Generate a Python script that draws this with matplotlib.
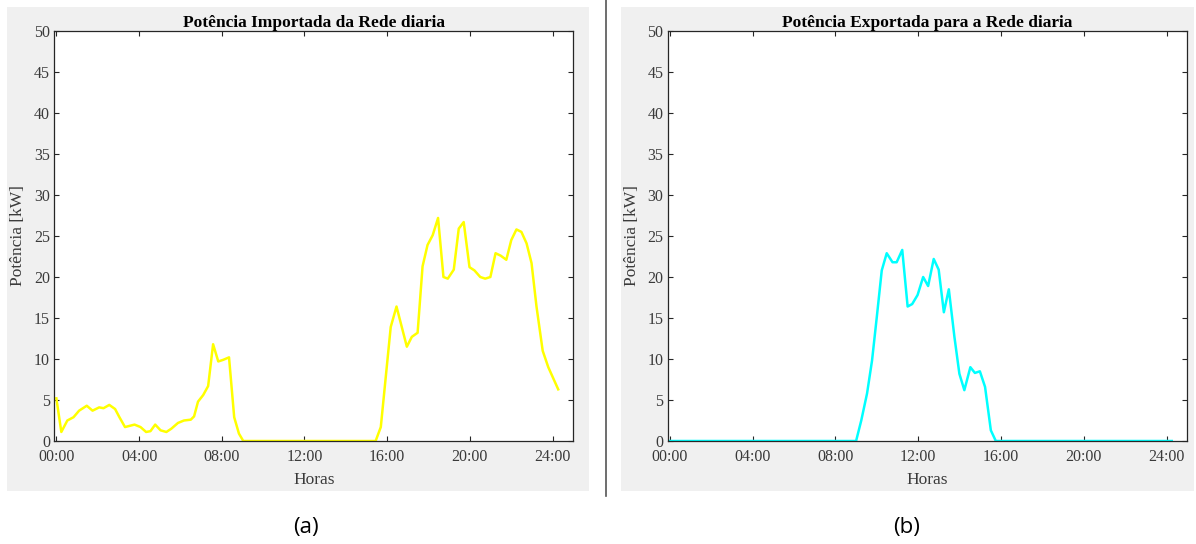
import matplotlib
matplotlib.use("Agg")
import matplotlib.pyplot as plt
from matplotlib.patches import Rectangle
from matplotlib.lines import Line2D

# ---------------- data ----------------
imp_hours = [0.00, 0.24, 0.53, 0.83, 1.10, 1.47, 1.75, 2.07, 2.28, 2.56, 2.84, 3.05,
             3.32, 3.78, 4.07, 4.34, 4.55, 4.78, 5.04, 5.32, 5.56, 5.88, 6.17, 6.50,
             6.66, 6.85, 7.10, 7.34, 7.58, 7.83, 8.07, 8.35, 8.60, 8.83, 9.04, 15.44,
             15.69, 15.93, 16.17, 16.45, 16.95, 17.19, 17.47, 17.71, 17.95, 18.20,
             18.46, 18.72, 18.93, 19.22, 19.46, 19.70, 19.98, 20.22, 20.50, 20.74,
             20.99, 21.24, 21.49, 21.76, 22.00, 22.25, 22.49, 22.74, 22.98, 23.22,
             23.52, 23.79, 24.27]
imp_kw = [5.2, 1.1, 2.5, 2.9, 3.7, 4.3, 3.7, 4.1, 4.0, 4.4, 3.9, 2.9,
          1.7, 2.0, 1.7, 1.1, 1.2, 2.0, 1.3, 1.1, 1.5, 2.2, 2.5, 2.6,
          3.0, 4.8, 5.6, 6.7, 11.8, 9.7, 9.9, 10.2, 2.9, 0.9, 0.0, 0.0,
          1.7, 7.8, 13.9, 16.4, 11.5, 12.7, 13.2, 21.3, 23.9, 25.1,
          27.2, 20.0, 19.8, 20.9, 25.9, 26.7, 21.2, 20.8, 20.0, 19.8,
          20.0, 22.9, 22.6, 22.1, 24.5, 25.8, 25.5, 24.1, 21.7, 16.4,
          11.0, 9.0, 6.3]

exp_hours = [0.00, 9.00, 9.25, 9.53, 9.77, 10.00, 10.24, 10.48, 10.76, 10.96, 11.23,
             11.49, 11.71, 11.97, 12.24, 12.48, 12.75, 12.99, 13.24, 13.48, 13.75,
             13.99, 14.23, 14.52, 14.74, 14.98, 15.23, 15.51, 15.75, 24.25]
exp_kw = [0.0, 0.0, 2.5, 5.8, 9.8, 15.1, 20.8, 22.9, 21.8, 21.8, 23.3,
          16.4, 16.7, 17.8, 20.0, 18.9, 22.2, 20.9, 15.7, 18.5, 12.7,
          8.2, 6.2, 9.0, 8.3, 8.5, 6.6, 1.3, 0.0, 0.0]

xtick_hours = [0, 4, 8, 12, 16, 20, 24]
xtick_labels = ["00:00", "04:00", "08:00", "12:00", "16:00", "20:00", "24:00"]
ytick_vals = [0, 5, 10, 15, 20, 25, 30, 35, 40, 45, 50]

titles = ["Potência Importada da Rede diaria", "Potência Exportada para a Rede diaria"]
ylabel = "Potência [kW]"
xlabel = "Horas"
panel_tags = ["(a)", "(b)"]

# ---------------- figure ----------------
W, H = 1196, 544
fig = plt.figure(figsize=(W / 100, H / 100), dpi=100)
fig.patch.set_facecolor("white")

serif = ["Liberation Serif", "DejaVu Serif"]
dark = "#262626"


def fx(px):
    return px / W


def fy(py):
    return 1 - py / H


# gray MATLAB figure backgrounds
for x0, x1 in [(6.7, 589.3), (620.7, 1194.0)]:
    fig.patches.append(Rectangle((fx(x0), fy(490.7)), fx(x1 - x0), (490.7 - 7.3) / H,
                                 transform=fig.transFigure, facecolor="#F0F0F0",
                                 edgecolor="none", zorder=-5))
# divider line
fig.lines.append(Line2D([fx(605.5), fx(605.5)], [fy(0), fy(496)], transform=fig.transFigure,
                        color="#555555", linewidth=1.2, zorder=-5))

axes_px = [(54.3, 573.3), (667.7, 1187.3)]
series = [(imp_hours, imp_kw, "#FFFF00"), (exp_hours, exp_kw, "#00FFFF")]
tag_x = [306, 907]

for i, ((l, r), (hx, vy, col)) in enumerate(zip(axes_px, series)):
    ax = fig.add_axes([fx(l), fy(441), fx(r - l), (441 - 31) / H])
    ax.set_facecolor("white")
    ax.plot(hx, vy, color=col, linewidth=1.8, solid_joinstyle="round")
    ax.set_xlim(-0.1, 25.0)
    ax.set_ylim(0, 50)
    ax.set_xticks(xtick_hours)
    ax.set_xticklabels(xtick_labels)
    ax.set_yticks(ytick_vals)
    ax.set_yticklabels([str(v) for v in ytick_vals])
    for sp in ax.spines.values():
        sp.set_color(dark)
        sp.set_linewidth(0.9)
    ax.tick_params(axis="both", direction="in", length=3.5, width=0.8, color=dark,
                   top=True, right=True, labelcolor="#3a3a3a", labelsize=11.5)
    ax.tick_params(axis="x", pad=6.0)
    ax.tick_params(axis="y", pad=3.0)
    for t in ax.get_xticklabels() + ax.get_yticklabels():
        t.set_family(serif)
    ax.set_title(titles[i], fontsize=12.5, fontweight="bold", family=serif, color="black", pad=3)
    ax.set_xlabel(xlabel, fontsize=12.5, family=serif, color="#3a3a3a")
    ax.xaxis.set_label_coords(0.5, -0.076)
    ax.set_ylabel(ylabel, fontsize=12.5, family=serif, color="#3a3a3a")
    ax.yaxis.set_label_coords(-0.054, 0.5)
    fig.text(fx(tag_x[i]), fy(527), panel_tags[i], fontsize=16, family=["Open Sans", "DejaVu Sans"],
             ha="center", va="center", color="black")

fig.savefig("out.png", dpi=100, facecolor="white")
